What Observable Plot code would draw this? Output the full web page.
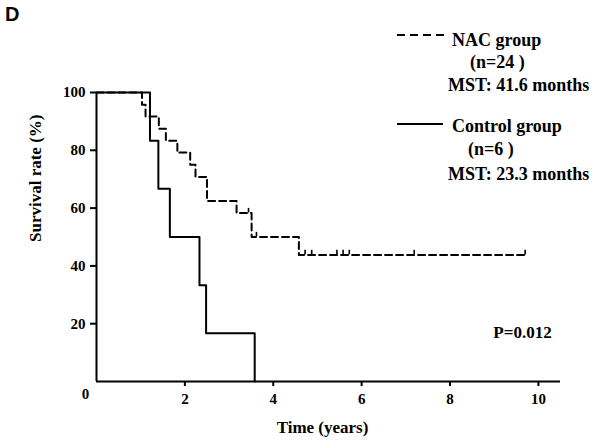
<!DOCTYPE html>
<html><head><meta charset="utf-8">
<script src="https://cdn.jsdelivr.net/npm/d3@7"></script>
<script src="https://cdn.jsdelivr.net/npm/@observablehq/plot@0.6"></script>
<style>
html,body{margin:0;padding:0;background:#fff;}
#wrap{position:relative;width:602px;height:448px;overflow:hidden;background:#fff;}
#wrap svg{position:absolute;left:0;top:0;}
</style></head><body><div id="wrap"></div>
<script>
// NAC group (dashed) Kaplan-Meier steps
const nacTime = [0, 1.03, 1.11, 1.41, 1.57, 1.83, 2.12, 2.24, 2.50, 3.17, 3.51, 4.58, 9.70];
const nacSurv = [100, 95.8, 91.7, 87.5, 83.3, 79.2, 75.0, 70.8, 62.5, 58.3, 50.0, 43.8, 43.8];
// NAC censor marks
const nacCensorTime = [3.44, 3.62, 4.72, 4.87, 5.44, 5.58, 5.72, 7.19, 9.70];
const nacCensorSurv = [58.3, 50.0, 43.8, 43.8, 43.8, 43.8, 43.8, 43.8, 43.8];
// Control group (solid)
const ctrlTime = [0, 1.21, 1.40, 1.66, 2.33, 2.48, 3.58];
const ctrlSurv = [100, 83.3, 66.7, 50.0, 33.3, 16.7, 0];
// ticks
const xTicks = [2, 4, 6, 8, 10];
const yTicks = [20, 40, 60, 80, 100];
// annotation
const pText = ["P=0.012"];
const pPos = {x: 9.64, y: 17};
const legendItems = [
  {dash: true, lines: ["NAC group", "(n=24 )", "MST: 41.6 months"]},
  {dash: false, lines: ["Control group", "(n=6 )", "MST: 23.3 months"]}
];

const nac = nacTime.map((t, i) => ({t, s: nacSurv[i]}));
const ctrl = ctrlTime.map((t, i) => ({t, s: ctrlSurv[i]}));
const cens = nacCensorTime.map((t, i) => ({t, s: nacCensorSurv[i]}));

const chart = Plot.plot({
  width: 602, height: 448,
  marginLeft: 96, marginRight: 42, marginTop: 92, marginBottom: 67,
  style: {fontFamily: "'Liberation Serif', 'Times New Roman', serif", fontSize: "15px", fontWeight: "bold", color: "#000", background: "#fff"},
  x: {domain: [0, 10.5]},
  y: {domain: [0, 100]},
  marks: [
    Plot.axisX({ticks: xTicks, tickSize: 5, tickPadding: 7, label: null, strokeWidth: 2}),
    Plot.axisY({ticks: yTicks, tickSize: 6, tickPadding: 5, label: null, strokeWidth: 2}),
    Plot.ruleX([0], {strokeWidth: 2}),
    Plot.ruleY([0], {strokeWidth: 2}),
    Plot.text([0], {x: d => d, y: 0, text: d => String(d), dx: -11, dy: 7, lineAnchor: "top", fontSize: 15}),
    Plot.line(ctrl, {x: "t", y: "s", curve: "step-after", stroke: "#000", strokeWidth: 2}),
    Plot.line(nac, {x: "t", y: "s", curve: "step-after", stroke: "#000", strokeWidth: 2, strokeDasharray: "7,4"}),
    Plot.ruleX(cens, {x: "t", y1: "s", y2: d => d.s + 1.6, stroke: "#000", strokeWidth: 1.6}),
    Plot.text(pText, {x: () => pPos.x, y: () => pPos.y, text: d => d, fontSize: 17}),
    Plot.text(["Survival rate (%)"], {frameAnchor: "left", text: d => d, rotate: -90, dx: -61, dy: 5, fontSize: 17}),
    Plot.text(["Time (years)"], {frameAnchor: "bottom", text: d => d, dx: -6, dy: 51, fontSize: 17})
  ]
});
const wrap = document.getElementById("wrap");
wrap.appendChild(chart);

// legend + panel letter overlay
const ns = "http://www.w3.org/2000/svg";
const ov = document.createElementNS(ns, "svg");
ov.setAttribute("width", 602); ov.setAttribute("height", 448);
ov.style.fontFamily = "'Liberation Serif', 'Times New Roman', serif";
ov.style.fontWeight = "bold";
const lineY = [35, 124];
const textX = [[452, 470, 448], [452, 468, 448]];
const textBase = [[46, 68, 91], [132, 155, 180]];
legendItems.forEach((it, k) => {
  const l = document.createElementNS(ns, "line");
  l.setAttribute("x1", 397); l.setAttribute("x2", it.dash ? 446 : 443);
  l.setAttribute("y1", lineY[k]); l.setAttribute("y2", lineY[k]);
  l.setAttribute("stroke", "#000"); l.setAttribute("stroke-width", 2);
  if (it.dash) l.setAttribute("stroke-dasharray", "8,5");
  ov.appendChild(l);
  it.lines.forEach((s, j) => {
    const t = document.createElementNS(ns, "text");
    t.setAttribute("x", textX[k][j]); t.setAttribute("y", textBase[k][j]);
    t.setAttribute("font-size", 18);
    t.textContent = s;
    ov.appendChild(t);
  });
});
const D = document.createElementNS(ns, "text");
D.setAttribute("x", 5); D.setAttribute("y", 21);
D.setAttribute("font-size", 20);
D.setAttribute("font-family", "'Liberation Sans', Arial, sans-serif");
D.textContent = "D";
ov.appendChild(D);
wrap.appendChild(ov);
</script></body></html>
